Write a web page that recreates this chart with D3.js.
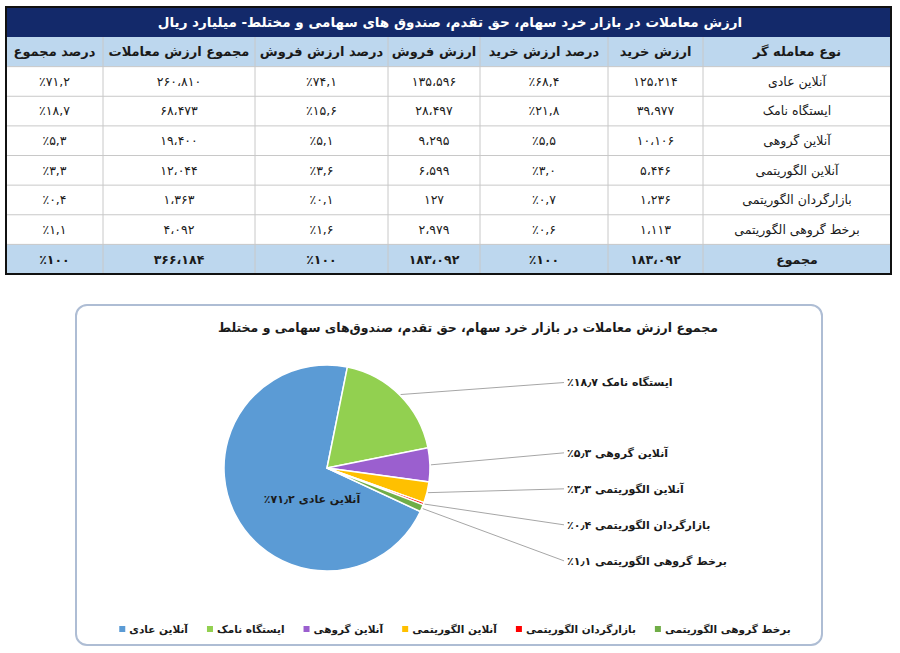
<!DOCTYPE html>
<html>
<head>
<meta charset="utf-8">
<script src="https://cdn.jsdelivr.net/npm/d3@7"></script>
<style>
body { margin: 0; background: #fff; }
svg { display: block; }
text { font-family: "DejaVu Sans", sans-serif; fill: #1a1a1a; }
</style>
</head>
<body>
<script>
var w = 900;
var h = 653;

// data
var categories = ["آنلاین عادی", "ایستگاه نامک", "آنلاین گروهی", "آنلاین الگوریتمی", "بازارگردان الگوریتمی", "برخط گروهی الگوریتمی"];
var buyValue = [125214, 39977, 10106, 5446, 1236, 1113];
var buyPct = [68.4, 21.8, 5.5, 3.0, 0.7, 0.6];
var sellValue = [135596, 28497, 9295, 6599, 127, 2979];
var sellPct = [74.1, 15.6, 5.1, 3.6, 0.1, 1.6];
var totalValue = [260810, 68473, 19400, 12044, 1363, 4092];
var totalPct = [71.2, 18.7, 5.3, 3.3, 0.4, 1.1];
var columnTotals = [183092, 100, 183092, 100, 366184, 100];
var headers = ["نوع معامله گر", "ارزش خرید", "درصد ارزش خرید", "ارزش فروش", "درصد ارزش فروش", "مجموع ارزش معاملات", "درصد مجموع"];
var totalLabel = "مجموع";
var tableTitle = "ارزش معاملات در بازار خرد سهام، حق تقدم، صندوق های سهامی و مختلط- میلیارد ریال";
var pieTitle = "مجموع ارزش معاملات در بازار خرد سهام، حق تقدم، صندوق‌های سهامی و مختلط";
var colors = ["#5B9BD5", "#92D050", "#9B5FCF", "#FFC000", "#FF0000", "#70AD47"];

// persian digits
var faDigits = "۰۱۲۳۴۵۶۷۸۹";
function fa(s) {
    return String(s).replace(/\d/g, function (d) { return faDigits[+d]; });
}
function fmtInt(v) {
    return fa(d3.format(",")(v)).replace(/,/g, "،");
}
function fmtPct(v) {
    var s = v === 100 ? "100" : v.toFixed(1);
    return "٪" + fa(s).replace(".", ",");
}

var svg = d3.select("body")
            .append("svg")
            .attr("width", w)
            .attr("height", h);

// ---------- table ----------
var colEdges = [891, 703, 608, 480, 388, 255, 103, 6];    // right to left
var xCol = d3.scaleOrdinal()
             .domain(d3.range(7))
             .range(d3.range(7).map(function (i) { return (colEdges[i] + colEdges[i + 1]) / 2; }));
var yRow = d3.scaleBand()
             .domain(d3.range(8))        // header, 6 rows, total
             .range([37, 274]);

var rows = categories.map(function (c, i) {
    return [c, fmtInt(buyValue[i]), fmtPct(buyPct[i]), fmtInt(sellValue[i]),
            fmtPct(sellPct[i]), fmtInt(totalValue[i]), fmtPct(totalPct[i])];
});
var totalRow = [totalLabel].concat(columnTotals.map(function (v, i) {
    return i % 2 === 0 ? fmtInt(v) : fmtPct(v);
}));

var table = svg.append("g");

table.append("rect")
    .attr("x", 6).attr("y", 7)
    .attr("width", 885).attr("height", 30)
    .attr("fill", "#13296A");

table.append("text")
    .text(tableTitle)
    .attr("x", 450).attr("y", 22)
    .attr("dy", "0.35em")
    .attr("text-anchor", "middle")
    .attr("direction", "rtl")
    .attr("font-size", 13.5)
    .attr("font-weight", "bold")
    .style("fill", "#fff");

[0, 7].forEach(function (r) {
    table.append("rect")
        .attr("x", 6).attr("y", yRow(r))
        .attr("width", 885).attr("height", yRow.bandwidth())
        .attr("fill", "#BDD7EE");
});

// grid
table.selectAll("line.h")
    .data(d3.range(1, 8))
    .enter()
    .append("line")
    .attr("x1", 6).attr("x2", 891)
    .attr("y1", function (d) { return yRow(d); })
    .attr("y2", function (d) { return yRow(d); })
    .attr("stroke", "#C8C8C8");

table.selectAll("line.v")
    .data(colEdges.slice(1, 7))
    .enter()
    .append("line")
    .attr("x1", function (d) { return d; })
    .attr("x2", function (d) { return d; })
    .attr("y1", 37).attr("y2", 274)
    .attr("stroke", "#C8C8C8");

// header
table.selectAll("text.head")
    .data(headers)
    .enter()
    .append("text")
    .text(function (d) { return d; })
    .attr("x", function (d, i) { return xCol(i); })
    .attr("y", yRow(0) + yRow.bandwidth() / 2)
    .attr("dy", "0.35em")
    .attr("text-anchor", "middle")
    .attr("direction", "rtl")
    .attr("font-size", 13)
    .attr("font-weight", "bold");

// body + total
rows.concat([totalRow]).forEach(function (row, r) {
    var bold = r === rows.length;
    table.selectAll(null)
        .data(row)
        .enter()
        .append("text")
        .text(function (d) { return d; })
        .attr("x", function (d, i) { return xCol(i); })
        .attr("y", yRow(r + 1) + yRow.bandwidth() / 2)
        .attr("dy", "0.35em")
        .attr("text-anchor", "middle")
        .attr("direction", function (d, i) { return i === 0 ? "rtl" : "ltr"; })
        .attr("font-size", 12.5)
        .attr("font-weight", bold ? "bold" : "normal");
});

table.append("rect")
    .attr("x", 6).attr("y", 7)
    .attr("width", 885).attr("height", 267)
    .attr("fill", "none")
    .attr("stroke", "#111")
    .attr("stroke-width", 2);

// ---------- pie ----------
svg.append("rect")
    .attr("x", 76).attr("y", 305)
    .attr("width", 746).attr("height", 340)
    .attr("rx", 11)
    .attr("fill", "#fff")
    .attr("stroke", "#AEBDD4")
    .attr("stroke-width", 2);

svg.append("text")
    .text(pieTitle)
    .attr("x", 468).attr("y", 328)
    .attr("dy", "0.35em")
    .attr("text-anchor", "middle")
    .attr("direction", "rtl")
    .attr("font-size", 12.5)
    .attr("font-weight", "bold");

var cx = 327, cy = 468, r = 103;
var start = 115 * Math.PI / 180;    // angle of first slice

var pie = d3.pie()
            .sort(null)
            .startAngle(start)
            .endAngle(start + 2 * Math.PI);
var arc = d3.arc().innerRadius(0).outerRadius(r);
var arcs = pie(totalValue);

var pieG = svg.append("g").attr("transform", "translate(" + cx + "," + cy + ")");

pieG.selectAll("path")
    .data(arcs)
    .enter()
    .append("path")
    .attr("d", arc)
    .attr("fill", function (d, i) { return colors[i]; })
    .attr("stroke", "#fff")
    .attr("stroke-width", 1.5);

// label for the big slice, inside
pieG.append("text")
    .text(categories[0] + " " + fa(totalPct[0].toFixed(1)).replace(".", "٫") + "٪")
    .attr("x", -15).attr("y", 31)
    .attr("dy", "0.35em")
    .attr("text-anchor", "middle")
    .attr("direction", "rtl")
    .attr("font-size", 11)
    .attr("font-weight", "bold");

// outside labels, stacked on the right
var labelX = cx + 240;
var gap = 36;
var outside = arcs.slice(1).map(function (a, k) {
    var mid = (a.startAngle + a.endAngle) / 2;
    var px = cx + (r + 1) * Math.sin(mid);
    var py = cy - (r + 1) * Math.cos(mid);
    return { i: k + 1, px: px, py: py, ly: py - 12 };
});
for (var k = 1; k < outside.length; k++) {
    outside[k].ly = Math.max(outside[k].ly, outside[k - 1].ly + gap);
}
outside[outside.length - 1].ly = Math.min(outside[outside.length - 1].ly, cy + 94);
for (var k = outside.length - 2; k >= 0; k--) {
    outside[k].ly = Math.min(outside[k].ly, outside[k + 1].ly - gap);
}

svg.selectAll("line.leader")
    .data(outside)
    .enter()
    .append("line")
    .attr("x1", function (d) { return d.px; })
    .attr("y1", function (d) { return d.py; })
    .attr("x2", labelX - 3)
    .attr("y2", function (d) { return d.ly; })
    .attr("stroke", "#A6A6A6")
    .attr("stroke-width", 1);

svg.selectAll("text.lab")
    .data(outside)
    .enter()
    .append("text")
    .text(function (d) {
        return categories[d.i] + " " + fa(totalPct[d.i].toFixed(1)).replace(".", "٫") + "٪";
    })
    .attr("x", labelX)
    .attr("y", function (d) { return d.ly; })
    .attr("dy", "0.35em")
    .attr("text-anchor", "end")      // rtl: end = left edge
    .attr("direction", "rtl")
    .attr("font-size", 11)
    .attr("font-weight", "bold");

// legend
var legend = svg.append("g");
var items = legend.selectAll("g")
    .data(categories)
    .enter()
    .append("g");

items.append("rect")
    .attr("width", 6).attr("height", 6)
    .attr("y", 626)
    .attr("fill", function (d, i) { return colors[i]; });

items.append("text")
    .text(function (d) { return d; })
    .attr("x", 10)
    .attr("y", 629)
    .attr("dy", "0.35em")
    .attr("text-anchor", "end")
    .attr("direction", "rtl")
    .attr("font-size", 10.5)
    .attr("font-weight", "bold");

var widths = [];
items.each(function () {
    widths.push(10 + d3.select(this).select("text").node().getComputedTextLength());
});
var spacing = 19;
var totalW = d3.sum(widths) + spacing * (widths.length - 1);
var lx = 455 - totalW / 2;
items.attr("transform", function (d, i) {
    var x = lx;
    lx += widths[i] + spacing;
    return "translate(" + x + ",0)";
});
</script>
</body>
</html>
